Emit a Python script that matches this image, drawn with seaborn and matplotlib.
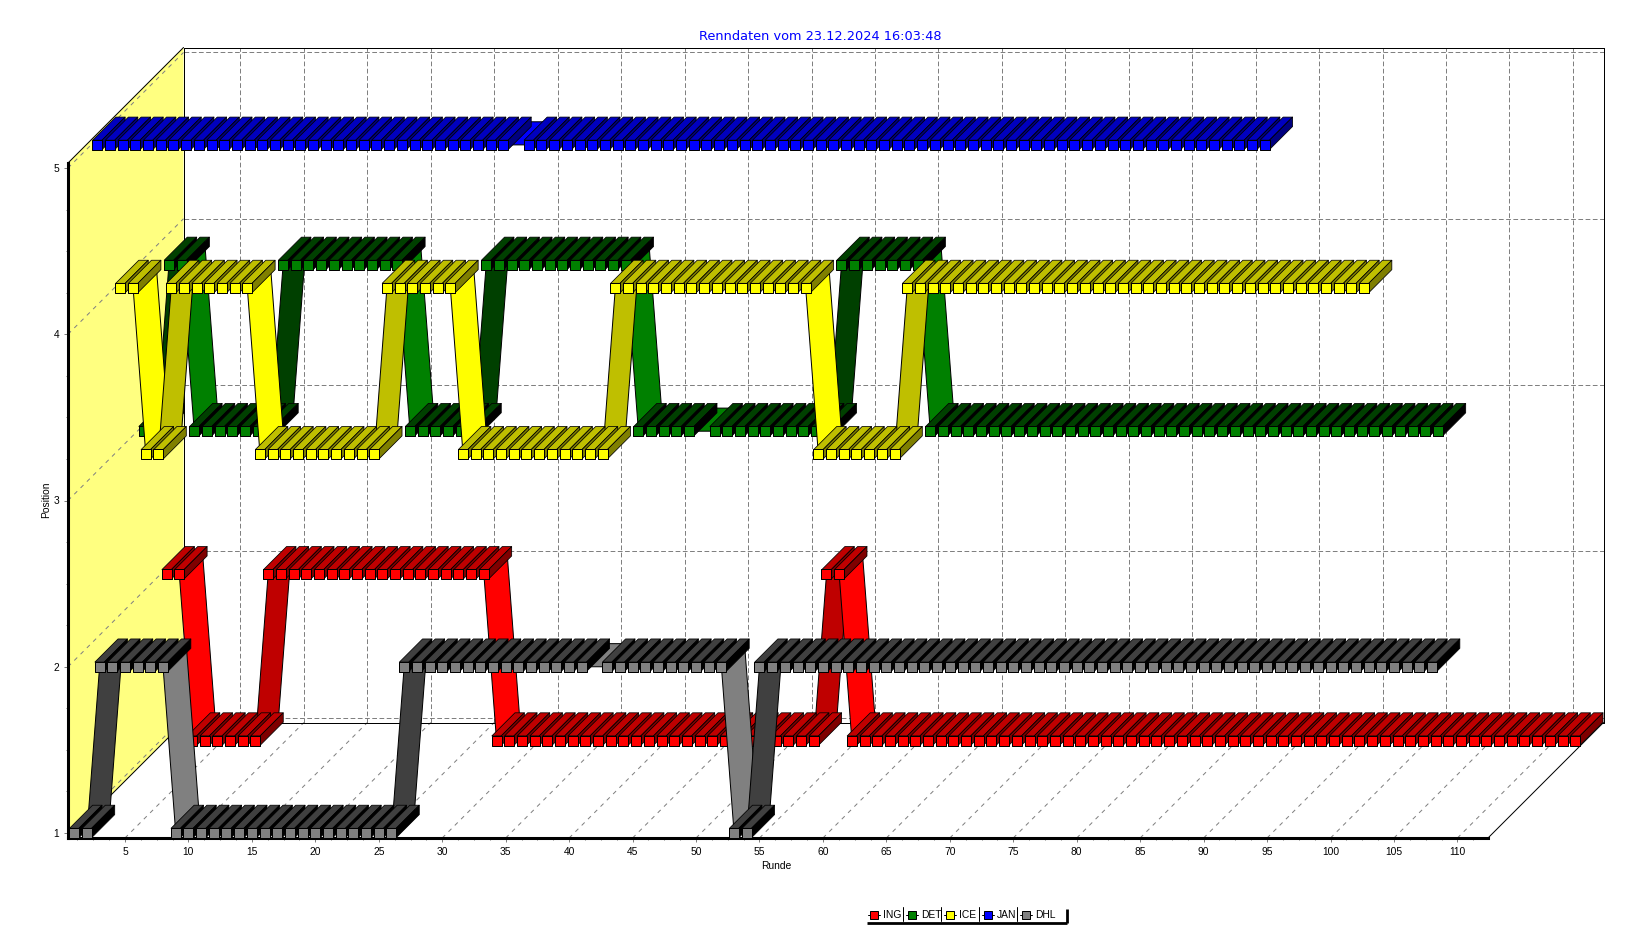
import matplotlib
matplotlib.use("Agg")
import matplotlib.pyplot as plt
from matplotlib.collections import PolyCollection
from matplotlib.lines import Line2D
from matplotlib.patches import Polygon
from matplotlib.ticker import MultipleLocator, FixedLocator
import pandas as pd
import seaborn as sns

TITLE = "Renndaten vom 23.12.2024 16:03:48"
X_LABEL = "Runde"
Y_LABEL = "Position"
X_TICKS = [5, 10, 15, 20, 25, 30, 35, 40, 45, 50, 55, 60, 65, 70, 75, 80, 85, 90, 95, 100, 105, 110]
Y_TICKS = [1, 2, 3, 4, 5]

# position per round (first entry = round 1), None = round not recorded
ING = [2, 2, 1, 1, 1, 1, 1, 1, 2, 2,
       2, 2, 2, 2, 2, 2, 2, 2, 2, 2,
       2, 2, 2, 2, 2, 2, 1, 1, 1, 1,
       1, 1, 1, 1, 1, 1, 1, 1, 1, 1,
       1, 1, 1, 1, 1, 1, 1, 1, 1, 1,
       1, 1, 2, 2, 1, 1, 1, 1, 1, 1,
       1, 1, 1, 1, 1, 1, 1, 1, 1, 1,
       1, 1, 1, 1, 1, 1, 1, 1, 1, 1,
       1, 1, 1, 1, 1, 1, 1, 1, 1, 1,
       1, 1, 1, 1, 1, 1, 1, 1, 1, 1,
       1, 1, 1, 1, 1, 1, 1, 1, 1, 1,
       1, 1]
DET = [3, 3, 4, 4, 3, 3, 3, 3, 3, 3,
       3, 4, 4, 4, 4, 4, 4, 4, 4, 4,
       4, 3, 3, 3, 3, 3, 3, 4, 4, 4,
       4, 4, 4, 4, 4, 4, 4, 4, 4, 3,
       3, 3, 3, 3, None, 3, 3, 3, 3, 3,
       3, 3, 3, 3, 3, 4, 4, 4, 4, 4,
       4, 4, 3, 3, 3, 3, 3, 3, 3, 3,
       3, 3, 3, 3, 3, 3, 3, 3, 3, 3,
       3, 3, 3, 3, 3, 3, 3, 3, 3, 3,
       3, 3, 3, 3, 3, 3, 3, 3, 3, 3,
       3, 3, 3]
ICE = [4, 4, 3, 3, 4, 4, 4, 4, 4, 4,
       4, 3, 3, 3, 3, 3, 3, 3, 3, 3,
       3, 4, 4, 4, 4, 4, 4, 3, 3, 3,
       3, 3, 3, 3, 3, 3, 3, 3, 3, 4,
       4, 4, 4, 4, 4, 4, 4, 4, 4, 4,
       4, 4, 4, 4, 4, 3, 3, 3, 3, 3,
       3, 3, 4, 4, 4, 4, 4, 4, 4, 4,
       4, 4, 4, 4, 4, 4, 4, 4, 4, 4,
       4, 4, 4, 4, 4, 4, 4, 4, 4, 4,
       4, 4, 4, 4, 4, 4, 4, 4, 4]
JAN = [5, 5, 5, 5, 5, 5, 5, 5, 5, 5,
       5, 5, 5, 5, 5, 5, 5, 5, 5, 5,
       5, 5, 5, 5, 5, 5, 5, 5, 5, 5,
       5, 5, 5, None, 5, 5, 5, 5, 5, 5,
       5, 5, 5, 5, 5, 5, 5, 5, 5, 5,
       5, 5, 5, 5, 5, 5, 5, 5, 5, 5,
       5, 5, 5, 5, 5, 5, 5, 5, 5, 5,
       5, 5, 5, 5, 5, 5, 5, 5, 5, 5,
       5, 5, 5, 5, 5, 5, 5, 5, 5, 5,
       5, 5, 5]
DHL = [1, 1, 2, 2, 2, 2, 2, 2, 1, 1,
       1, 1, 1, 1, 1, 1, 1, 1, 1, 1,
       1, 1, 1, 1, 1, 1, 2, 2, 2, 2,
       2, 2, 2, 2, 2, 2, 2, 2, 2, 2,
       2, None, 2, 2, 2, 2, 2, 2, 2, 2,
       2, 2, 1, 1, 2, 2, 2, 2, 2, 2,
       2, 2, 2, 2, 2, 2, 2, 2, 2, 2,
       2, 2, 2, 2, 2, 2, 2, 2, 2, 2,
       2, 2, 2, 2, 2, 2, 2, 2, 2, 2,
       2, 2, 2, 2, 2, 2, 2, 2, 2, 2,
       2, 2, 2, 2, 2, 2, 2, 2]

NAMES = ["ING", "DET", "ICE", "JAN", "DHL"]
VALUES = [ING, DET, ICE, JAN, DHL]
COLORS = [(255, 0, 0), (0, 128, 0), (255, 255, 0), (0, 0, 255), (128, 128, 128)]
SLOTS = [4, 3, 2, 1, 0]  # depth slot of each series, 0 = front

W, H = 1641, 952
LEFT, RIGHT, TOP, BOTTOM = 68, 1488, 163, 838
XLIM = (0.51, 112.41)
YLIM = (0.97, 5.03)
DEPTH = 115.5
SLOT_D = 23.1
CUBE_HALF = 4.7
PX = 0.72  # one pixel in points
EDGE = 0.55

sns.set_style("white")
plt.rcParams["font.family"] = ["Liberation Sans", "DejaVu Sans"]
plt.rcParams["lines.scale_dashes"] = False

fig = plt.figure(figsize=(W / 100, H / 100), dpi=100, facecolor="white")
ax = fig.add_axes([LEFT / W, 1 - BOTTOM / H, (RIGHT - LEFT) / W, (BOTTOM - TOP) / H])
ax.set_facecolor("none")

ppx = (RIGHT - LEFT) / (XLIM[1] - XLIM[0])
ppy = (BOTTOM - TOP) / (YLIM[1] - YLIM[0])


def pt(r, p, right=0.0, up=0.0):
    """Data point shifted by a screen offset in pixels (oblique depth)."""
    return (r + right / ppx, p + up / ppy)


def shade(c, amount):
    return tuple(max(v - amount, 0) / 255 for v in c)


GREY = "#808080"
dash_hv = dict(color=GREY, lw=PX, ls=(0, (3.4, 1.8)), clip_on=False, zorder=1.5)
dash_diag = dict(color=GREY, lw=PX, ls=(0, (3.0, 3.4)), clip_on=False, zorder=1.5)
solid = dict(color="black", lw=PX, clip_on=False, zorder=1.8)

# walls
ax.add_patch(Polygon([pt(XLIM[0], YLIM[0]), pt(XLIM[0], YLIM[1]),
                      pt(XLIM[0], YLIM[1], DEPTH, DEPTH), pt(XLIM[0], YLIM[0], DEPTH, DEPTH)],
                     closed=True, facecolor="#FFFF80", edgecolor="none", clip_on=False, zorder=1))

# grid
for t in X_TICKS:
    a, b = pt(t, YLIM[0]), pt(t, YLIM[0], DEPTH, DEPTH)
    ax.plot([a[0], b[0]], [a[1], b[1]], **dash_diag)
    a, b = pt(t, YLIM[0], DEPTH, DEPTH), pt(t, YLIM[1], DEPTH, DEPTH)
    ax.plot([a[0], b[0]], [a[1], b[1]], **dash_hv)
for t in Y_TICKS:
    a, b = pt(XLIM[0], t), pt(XLIM[0], t, DEPTH, DEPTH)
    ax.plot([a[0], b[0]], [a[1], b[1]], **dash_diag)
    a, b = pt(XLIM[0], t, DEPTH, DEPTH), pt(XLIM[1], t, DEPTH, DEPTH)
    ax.plot([a[0], b[0]], [a[1], b[1]], **dash_hv)

# frame of the box
c00, c01 = pt(XLIM[0], YLIM[0], DEPTH, DEPTH), pt(XLIM[0], YLIM[1], DEPTH, DEPTH)
c10, c11 = pt(XLIM[1], YLIM[0], DEPTH, DEPTH), pt(XLIM[1], YLIM[1], DEPTH, DEPTH)
for a, b in [(c00, c01), (c01, c11), (c11, c10), (c10, c00),
             ((XLIM[0], YLIM[1]), c01), ((XLIM[0], YLIM[0]), c00), ((XLIM[1], YLIM[0]), c10)]:
    ax.plot([a[0], b[0]], [a[1], b[1]], **solid)

# series, back to front
for k, (name, vals, col, slot) in enumerate(zip(NAMES, VALUES, COLORS, SLOTS)):
    off = slot * SLOT_D
    base = 3 + k * 2
    df = pd.DataFrame({"round": [i + 1 for i, v in enumerate(vals) if v is not None],
                       "pos": [v for v in vals if v is not None]})
    bright, dark, side = shade(col, 0), shade(col, 64), shade(col, 128)

    ribbons, rib_cols = [], []
    rows = list(df.itertuples(index=False))
    for a, b in zip(rows[:-1], rows[1:]):
        ribbons.append([pt(a.round, a.pos, off, off), pt(a.round, a.pos, off + SLOT_D, off + SLOT_D),
                        pt(b.round, b.pos, off + SLOT_D, off + SLOT_D), pt(b.round, b.pos, off, off)])
        rib_cols.append(dark if b.pos > a.pos else bright)
    ax.add_collection(PolyCollection(ribbons, facecolors=rib_cols, edgecolors="black", linewidths=PX,
                                     clip_on=False, zorder=base), autolim=False)

    cube_polys, cube_cols = [], []
    h = CUBE_HALF
    for a in rows:
        cube_polys.append([pt(a.round, a.pos, off - h, off + h), pt(a.round, a.pos, off + h, off + h),
                           pt(a.round, a.pos, off + h + SLOT_D, off + h + SLOT_D),
                           pt(a.round, a.pos, off - h + SLOT_D, off + h + SLOT_D)])
        cube_cols.append(dark)
        cube_polys.append([pt(a.round, a.pos, off + h, off - h), pt(a.round, a.pos, off + h, off + h),
                           pt(a.round, a.pos, off + h + SLOT_D, off + h + SLOT_D),
                           pt(a.round, a.pos, off + h + SLOT_D, off - h + SLOT_D)])
        cube_cols.append(side)
    ax.add_collection(PolyCollection(cube_polys, facecolors=cube_cols, edgecolors="black", linewidths=EDGE,
                                     clip_on=False, zorder=base + 0.5), autolim=False)

    front = pd.DataFrame({"x": [pt(a.round, a.pos, off, off)[0] for a in rows],
                          "y": [pt(a.round, a.pos, off, off)[1] for a in rows]})
    sns.scatterplot(data=front, x="x", y="y", marker="s", s=(2 * h * PX) ** 2, color=[bright],
                    edgecolor="black", linewidth=PX, ax=ax, legend=False, clip_on=False,
                    zorder=base + 1)

# axes
ax.set_xlim(*XLIM)
ax.set_ylim(*YLIM)
ax.xaxis.set_major_locator(FixedLocator(X_TICKS))
ax.yaxis.set_major_locator(FixedLocator(Y_TICKS))
ax.xaxis.set_minor_locator(MultipleLocator(1.25))
ax.yaxis.set_minor_locator(MultipleLocator(0.25))
ax.tick_params(which="major", length=3, width=PX, color=GREY, labelsize=7.4, labelcolor="black", pad=3.4,
               bottom=True, left=True)
ax.tick_params(which="minor", length=1.5, width=PX, color=GREY, bottom=True, left=True)
for s in ("top", "right"):
    ax.spines[s].set_visible(False)
for s in ("left", "bottom"):
    ax.spines[s].set_linewidth(2.2)
    ax.spines[s].set_color("black")
    ax.spines[s].set_zorder(2)

ax.set_xlabel(X_LABEL, fontsize=7.4, va="center", color="black")
ax.xaxis.set_label_coords((776 - LEFT) / (RIGHT - LEFT), -(866 - BOTTOM) / (BOTTOM - TOP))
ax.set_ylabel(Y_LABEL, fontsize=7.4, va="center", color="black")
ax.yaxis.set_label_coords((46 - LEFT) / (RIGHT - LEFT), (BOTTOM - 500) / (BOTTOM - TOP))
ax.set_title(TITLE, fontsize=9.3, color="#0000FF", family="DejaVu Sans", va="center", pad=0,
             x=(820 - LEFT) / (RIGHT - LEFT), y=1 + (TOP - 36) / (BOTTOM - TOP))


# legend
def fx(x):
    return x / W


def fy(y):
    return 1 - y / H


def fline(xs, ys, **kw):
    fig.add_artist(Line2D([fx(x) for x in xs], [fy(y) for y in ys], transform=fig.transFigure, **kw))


for i, (name, col) in enumerate(zip(NAMES, COLORS)):
    cx = 874 + i * 38
    fline([cx - 6, cx + 6], [915, 915], color="black", lw=PX)
    fline([cx], [915], marker="s", ms=5.6, mfc=shade(col, 0), mec="black", mew=PX, ls="none")
    fig.text(fx(cx + 9), fy(915.5), name, fontsize=7.4, color="black", va="center", ha="left")
    if i > 0:
        fline([cx - 9, cx - 9], [907, 921], color="black", lw=PX)
fline([867, 1067], [923, 923], color="black", lw=2.0, solid_capstyle="butt")
fline([1067, 1067], [909, 923], color="black", lw=2.0, solid_capstyle="butt")

fig.savefig("out.png", dpi=100, facecolor="white")
